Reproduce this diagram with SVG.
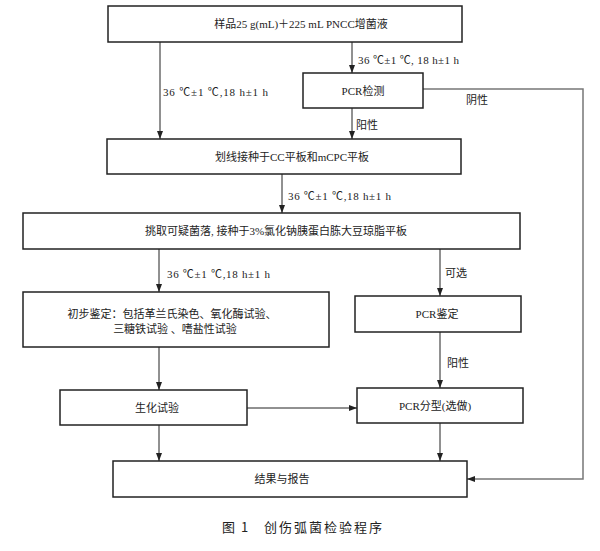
<svg xmlns="http://www.w3.org/2000/svg" width="600" height="551" viewBox="0 0 600 551">
<style>
.box{fill:#fff;stroke:#222;stroke-width:1.5}
.t{font-family:"Liberation Serif","Noto Sans CJK SC",serif;font-size:11px;fill:#222;text-anchor:middle}
.l{font-family:"Liberation Serif","Noto Sans CJK SC",serif;font-size:11px;fill:#222}
.c{stroke:#222;stroke-width:1;fill:none}
.g{stroke:#777;stroke-width:1.5;fill:none}
.cap{font-family:"Noto Sans CJK SC","Liberation Sans",sans-serif;font-size:13px;fill:#222}
</style>
<defs>
<marker id="ah" viewBox="0 0 8 6" refX="8" refY="3" markerWidth="8" markerHeight="6" markerUnits="userSpaceOnUse" orient="auto">
<path d="M0,0 L8,3 L0,6 z" fill="#222"/>
</marker>
</defs>
<rect width="600" height="551" fill="#fff"/>
<g id="connectors">
<path class="c" d="M160,42 V139" marker-end="url(#ah)"/>
<path class="c" d="M352,42 V73" marker-end="url(#ah)"/>
<path class="c" d="M352,108 V139" marker-end="url(#ah)"/>
<path class="g" d="M423,89 H583 V479 H467" marker-end="url(#ah)"/>
<path class="c" d="M282,174 V213" marker-end="url(#ah)"/>
<path class="c" d="M159,249 V292" marker-end="url(#ah)"/>
<path class="c" d="M440,249 V296" marker-end="url(#ah)"/>
<path class="c" d="M159,347 V390" marker-end="url(#ah)"/>
<path class="c" d="M440,332 V388" marker-end="url(#ah)"/>
<path class="c" d="M247,408 H357" marker-end="url(#ah)"/>
<path class="c" d="M159,425 V461" marker-end="url(#ah)"/>
<path class="c" d="M440,423 V461" marker-end="url(#ah)"/>
<text class="l" x="358" y="64" textLength="101" lengthAdjust="spacing">36 ℃±1 ℃, 18 h±1 h</text>
<text class="l" x="163" y="96" textLength="105" lengthAdjust="spacing">36 ℃±1 ℃,18  h±1  h</text>
<text class="l" x="466" y="104">阴性</text>
<text class="l" x="356" y="129">阳性</text>
<text class="l" x="288" y="200" textLength="103" lengthAdjust="spacing">36 ℃±1 ℃,18 h±1 h</text>
<text class="l" x="167" y="278" textLength="103" lengthAdjust="spacing">36 ℃±1 ℃,18 h±1 h</text>
<text class="l" x="445" y="277">可选</text>
<text class="l" x="447" y="367">阳性</text>
</g>
<g id="n-sample"><rect class="box" x="108" y="6" width="354" height="36"/><text class="t" x="301" y="28">样品25 g(mL)＋225 mL PNCC增菌液</text></g>
<g id="n-pcr1"><rect class="box" x="303" y="73" width="120" height="35"/><text class="t" x="363" y="95">PCR检测</text></g>
<g id="n-streak"><rect class="box" x="107" y="139" width="354" height="35"/><text class="t" x="292" y="161">划线接种于CC平板和mCPC平板</text></g>
<g id="n-pick"><rect class="box" x="23" y="213" width="497" height="36"/><text class="t" x="276" y="235">挑取可疑菌落, 接种于3%氯化钠胰蛋白胨大豆琼脂平板</text></g>
<g id="n-prelim"><rect class="box" x="23" y="292" width="306" height="55"/><text class="t" x="172" y="318">初步鉴定：包括革兰氏染色、氧化酶试验、</text><text class="t" x="175" y="333">三糖铁试验 、嗜盐性试验</text></g>
<g id="n-pcr2"><rect class="box" x="355" y="296" width="166" height="36"/><text class="t" x="437" y="318">PCR鉴定</text></g>
<g id="n-bio"><rect class="box" x="60" y="390" width="187" height="35"/><text class="t" x="157" y="412">生化试验</text></g>
<g id="n-pcr3"><rect class="box" x="357" y="388" width="166" height="35"/><text class="t" x="435" y="410">PCR分型(选做)</text></g>
<g id="n-result"><rect class="box" x="113" y="461" width="354" height="36"/><text class="t" x="282" y="483">结果与报告</text></g>
<g id="caption"><text class="cap" x="222" y="532" letter-spacing="1.5">图 1</text><text class="cap" x="264" y="532" letter-spacing="2">创伤弧菌检验程序</text></g>
</svg>
